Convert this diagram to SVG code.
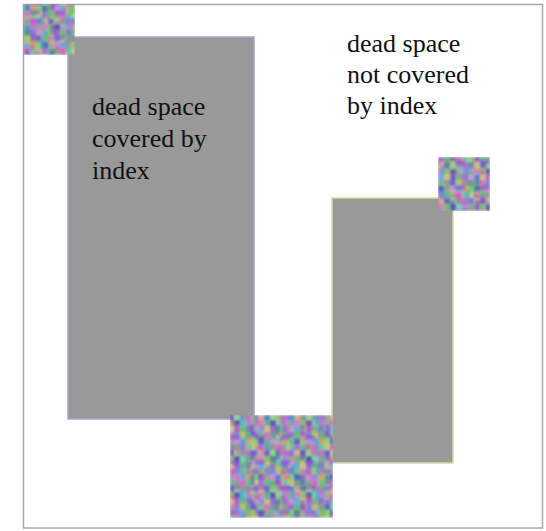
<svg xmlns="http://www.w3.org/2000/svg" width="546" height="531" viewBox="0 0 546 531">
<style>
.lbl{font-family:"Liberation Serif","Times New Roman","DejaVu Serif",serif;font-size:26px;fill:#111}
.box{fill:#999999;stroke-width:1.5}
</style>
<defs>
<filter id="soft" x="0" y="0" width="1" height="1"><feGaussianBlur stdDeviation="0.9"/></filter>
<pattern id="noise" width="36" height="36" patternUnits="userSpaceOnUse">
<rect x="0" y="0" width="6" height="6" fill="#9a6fd0"/><rect x="6" y="0" width="6" height="6" fill="#6fc08a"/><rect x="12" y="0" width="6" height="6" fill="#d07ab8"/><rect x="18" y="0" width="6" height="6" fill="#7a8ad8"/><rect x="24" y="0" width="6" height="6" fill="#b8c070"/><rect x="30" y="0" width="6" height="6" fill="#8a9a9a"/>
<rect x="0" y="6" width="6" height="6" fill="#80d070"/><rect x="6" y="6" width="6" height="6" fill="#5860c0"/><rect x="12" y="6" width="6" height="6" fill="#a0a0a0"/><rect x="18" y="6" width="6" height="6" fill="#c890d8"/><rect x="24" y="6" width="6" height="6" fill="#6aa8d8"/><rect x="30" y="6" width="6" height="6" fill="#d0a070"/>
<rect x="0" y="12" width="6" height="6" fill="#c0c878"/><rect x="6" y="12" width="6" height="6" fill="#b070d0"/><rect x="12" y="12" width="6" height="6" fill="#60b890"/><rect x="18" y="12" width="6" height="6" fill="#989898"/><rect x="24" y="12" width="6" height="6" fill="#d868c8"/><rect x="30" y="12" width="6" height="6" fill="#70c8a0"/>
<rect x="0" y="18" width="6" height="6" fill="#7080d8"/><rect x="6" y="18" width="6" height="6" fill="#d8b080"/><rect x="12" y="18" width="6" height="6" fill="#7a60c8"/><rect x="18" y="18" width="6" height="6" fill="#90d880"/><rect x="24" y="18" width="6" height="6" fill="#9890a8"/><rect x="30" y="18" width="6" height="6" fill="#c070c0"/>
<rect x="0" y="24" width="6" height="6" fill="#a8a098"/><rect x="6" y="24" width="6" height="6" fill="#c888c0"/><rect x="12" y="24" width="6" height="6" fill="#88c068"/><rect x="18" y="24" width="6" height="6" fill="#6058b8"/><rect x="24" y="24" width="6" height="6" fill="#78d0b0"/><rect x="30" y="24" width="6" height="6" fill="#a888d8"/>
<rect x="0" y="30" width="6" height="6" fill="#b8a0c8"/><rect x="6" y="30" width="6" height="6" fill="#70a8e0"/><rect x="12" y="30" width="6" height="6" fill="#d0c080"/><rect x="18" y="30" width="6" height="6" fill="#a068c8"/><rect x="24" y="30" width="6" height="6" fill="#68c078"/><rect x="30" y="30" width="6" height="6" fill="#8878c8"/>
</pattern>
<pattern id="noise2" width="25" height="25" patternUnits="userSpaceOnUse">
<rect x="0" y="0" width="5" height="10" fill="#5050c0" opacity="0.5"/><rect x="10" y="0" width="5" height="5" fill="#e060c0" opacity="0.5"/><rect x="20" y="5" width="5" height="10" fill="#50c060" opacity="0.5"/>
<rect x="5" y="10" width="10" height="5" fill="#8040d0" opacity="0.45"/><rect x="0" y="15" width="5" height="5" fill="#c0d060" opacity="0.5"/><rect x="15" y="15" width="5" height="10" fill="#40a0d0" opacity="0.5"/>
<rect x="5" y="20" width="5" height="5" fill="#d050a0" opacity="0.45"/>
</pattern>
</defs>
<rect x="0" y="0" width="546" height="531" fill="#ffffff"/>
<rect x="23.5" y="4.5" width="519" height="523.5" fill="none" stroke="#a8a8a8" stroke-width="1.5"/>
<g id="region-left">
<rect class="box" x="68" y="37" width="186" height="382" stroke="#a4a4cc"/>
</g>
<g id="region-right">
<rect class="box" x="332" y="198" width="121" height="265" stroke="#d8d8a4"/>
</g>
<g id="cluster-topleft" filter="url(#soft)"><rect x="23" y="4" width="52" height="51" fill="url(#noise)"/><rect x="23" y="4" width="52" height="51" fill="url(#noise2)"/></g>
<g id="cluster-right" filter="url(#soft)"><rect x="438" y="157" width="52" height="54" fill="url(#noise)"/><rect x="438" y="157" width="52" height="54" fill="url(#noise2)"/></g>
<g id="cluster-bottom" filter="url(#soft)"><rect x="230" y="415" width="103" height="103" fill="url(#noise)"/><rect x="230" y="415" width="103" height="103" fill="url(#noise2)"/></g>
<g id="label-covered">
<text class="lbl" x="92" y="115">dead space</text>
<text class="lbl" x="92" y="147">covered by</text>
<text class="lbl" x="92" y="179">index</text>
</g>
<g id="label-notcovered">
<text class="lbl" x="347" y="52">dead space</text>
<text class="lbl" x="347" y="83">not covered</text>
<text class="lbl" x="347" y="114">by index</text>
</g>
<g id="connectors"/>
</svg>
